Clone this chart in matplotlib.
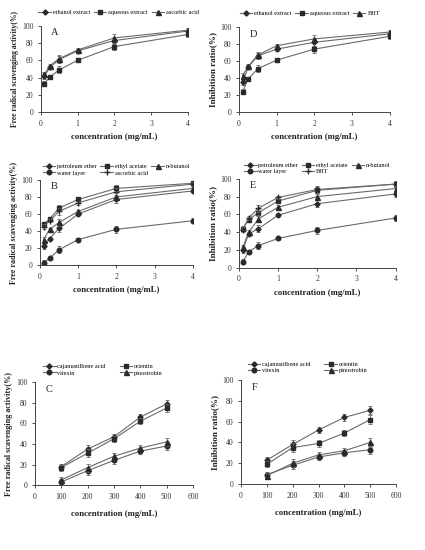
import matplotlib
matplotlib.use("Agg")
import matplotlib.pyplot as plt

plt.rcParams['font.family'] = ['Liberation Serif', 'DejaVu Serif']

# Data ------------------------------------------------------------------------

conc = [0.1, 0.25, 0.5, 1, 2, 4]
conc_c = [100, 200, 300, 400, 500]

# A: DPPH scavenging, crude extracts
a_ethanol = [42, 52, 61, 71, 83, 94]
a_aqueous = [33, 41, 49, 60, 76, 90]
a_ascorbic = [44, 54, 62, 72, 86, 95]

# D: inhibition ratio, crude extracts
d_ethanol = [35, 53, 66, 74, 82, 92]
d_aqueous = [24, 39, 51, 61, 74, 89]
d_bht = [43, 54, 67, 78, 86, 94]

# B: fractions, scavenging
b_petroleum = [22, 31, 43, 60, 77, 87]
b_ethyl = [48, 54, 67, 77, 90, 96]
b_butanol = [30, 42, 50, 63, 80, 90]
b_water = [3, 8, 18, 30, 42, 52]
b_ascorbic = [45, 52, 63, 73, 86, 95]

# E: fractions, inhibition
e_petroleum = [20, 38, 44, 59, 72, 83]
e_ethyl = [44, 54, 62, 75, 87, 94]
e_butanol = [23, 40, 55, 68, 80, 89]
e_water = [7, 18, 25, 33, 42, 56]
e_bht = [43, 56, 67, 79, 88, 94]

# C: pure compounds, scavenging
c_cajanus = [18, 35, 47, 66, 79]
c_orientin = [17, 31, 45, 62, 75]
c_vitexin = [3, 14, 24, 33, 38]
c_pinostrobin = [5, 17, 28, 36, 42]

# F: pure compounds, inhibition
f_cajanus = [23, 38, 52, 64, 71]
f_orientin = [19, 35, 39, 49, 62]
f_vitexin = [9, 18, 26, 30, 33]
f_pinostrobin = [8, 20, 28, 32, 40]

err6 = [3, 2, 4, 2, 4, 3]
err5 = [3, 4, 3, 3, 4]

# Plot ------------------------------------------------------------------------

line_c = '#6a6a6a'
mark_c = '#2a2a2a'
styles = {
    'diamond': dict(marker='D', ms=2.6),
    'square': dict(marker='s', ms=3.3),
    'triangle': dict(marker='^', ms=3.6),
    'circle': dict(marker='o', ms=3.3),
    'plus': dict(marker='+', ms=4.5),
}


def draw(ax, x, y, err, style, label):
    ax.errorbar(x, y, yerr=err, fmt='none', ecolor=line_c, elinewidth=0.6,
                capsize=1.3, capthick=0.6)
    ax.plot(x, y, color=line_c, lw=0.8, mfc=mark_c, mec=mark_c, label=label,
            **styles[style])


def finish(ax, letter, ylabel, ysize, ticks, legend_cols, legend_y,
           legend_x=0.5, colspace=0.6, xpad=4):
    ax.set_ylim(0, 100)
    ax.set_yticks(range(0, 101, 20))
    ax.set_xticks(ticks)
    ax.set_xlim(ticks[0], ticks[-1])
    ax.spines['top'].set_visible(False)
    ax.spines['right'].set_visible(False)
    for s in ('left', 'bottom'):
        ax.spines[s].set_color('#444444')
        ax.spines[s].set_linewidth(0.7)
    ax.tick_params(labelsize=5.5, length=2, width=0.6, colors='#333333')
    ax.text(0.07, 0.97, letter, transform=ax.transAxes, fontsize=7.5,
            va='top', color='#222222')
    ax.set_ylabel(ylabel, fontsize=ysize, fontweight='bold', color='#222222',
                  labelpad=2)
    ax.set_xlabel("concentration (mg/mL)", fontsize=6.3, fontweight='bold',
                  color='#222222', labelpad=xpad)
    ax.legend(ncol=legend_cols, frameon=False, fontsize=4.5,
              loc='lower center', bbox_to_anchor=(legend_x, legend_y),
              handlelength=2.0, columnspacing=colspace, handletextpad=0.3,
              labelspacing=0.15, borderaxespad=0)


fig = plt.figure(figsize=(4.25, 5.5), dpi=100)

scav = "Free radical scavenging activity(%)"
inhib = "Inhibition ratio(%)"

axA = fig.add_axes([0.096, 0.796, 0.346, 0.157])
draw(axA, conc, a_ethanol, err6, 'diamond', 'ethanol extract')
draw(axA, conc, a_aqueous, err6, 'square', 'aqueous extract')
draw(axA, conc, a_ascorbic, err6, 'triangle', 'ascorbic acid')
finish(axA, 'A', scav, 5.5, [0, 1, 2, 3, 4], 3, 1.1, 0.53)

axD = fig.add_axes([0.562, 0.796, 0.355, 0.155])
draw(axD, conc, d_ethanol, err6, 'diamond', 'ethanol extract')
draw(axD, conc, d_aqueous, err6, 'square', 'aqueous extract')
draw(axD, conc, d_bht, err6, 'triangle', 'BHT')
finish(axD, 'D', inhib, 6.6, [0, 1, 2, 3, 4], 3, 1.1, 0.47)

axB = fig.add_axes([0.094, 0.518, 0.36, 0.155])
draw(axB, conc, b_petroleum, err6, 'diamond', 'petroleum ether')
draw(axB, conc, b_water, err6, 'circle', 'water layer')
draw(axB, conc, b_ethyl, err6, 'square', 'ethyl acetate')
draw(axB, conc, b_ascorbic, err6, 'plus', 'ascorbic acid')
draw(axB, conc, b_butanol, err6, 'triangle', 'n-butanol')
finish(axB, 'B', scav, 5.8, [0, 1, 2, 3, 4], 3, 1.02, 0.5)

axE = fig.add_axes([0.562, 0.513, 0.369, 0.162])
draw(axE, conc, e_petroleum, err6, 'diamond', 'petroleum ether')
draw(axE, conc, e_water, err6, 'circle', 'water layer')
draw(axE, conc, e_ethyl, err6, 'square', 'ethyl acetate')
draw(axE, conc, e_bht, err6, 'plus', 'BHT')
draw(axE, conc, e_butanol, err6, 'triangle', 'n-butanol')
finish(axE, 'E', inhib, 6.6, [0, 1, 2, 3, 4], 3, 1.02, 0.5)

axC = fig.add_axes([0.082, 0.118, 0.372, 0.187])
draw(axC, conc_c, c_cajanus, err5, 'diamond', 'cajanustilbene acid')
draw(axC, conc_c, c_vitexin, err5, 'circle', 'vitexin')
draw(axC, conc_c, c_orientin, err5, 'square', 'orientin')
draw(axC, conc_c, c_pinostrobin, err5, 'triangle', 'pinostrobin')
finish(axC, 'C', scav, 5.9, [0, 100, 200, 300, 400, 500, 600], 2, 1.04,
       0.43, 2.2, 7)

axF = fig.add_axes([0.567, 0.12, 0.365, 0.189])
draw(axF, conc_c, f_cajanus, err5, 'diamond', 'cajanustilbene acid')
draw(axF, conc_c, f_vitexin, err5, 'circle', 'vitexin')
draw(axF, conc_c, f_orientin, err5, 'square', 'orientin')
draw(axF, conc_c, f_pinostrobin, err5, 'triangle', 'pinostrobin')
finish(axF, 'F', inhib, 6.6, [0, 100, 200, 300, 400, 500, 600], 2, 1.04,
       0.43, 2.2, 7)

fig.savefig("out.png", dpi=100)
